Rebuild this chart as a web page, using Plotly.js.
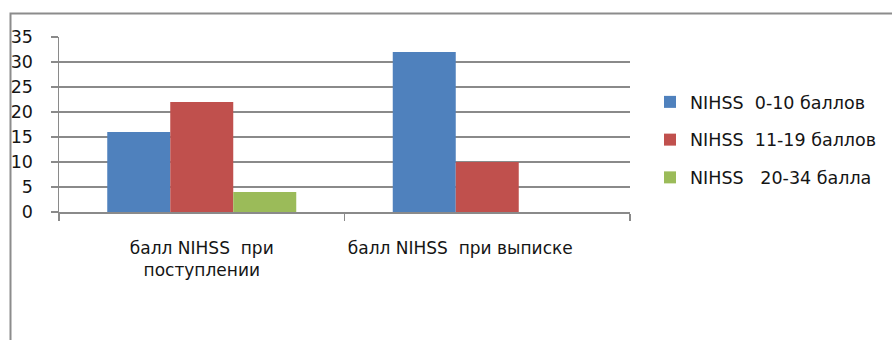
<!DOCTYPE html>
<html>
<head>
<meta charset="utf-8">
<script src="https://cdn.plot.ly/plotly-3.0.1.min.js"></script>
<style>
  html, body { margin: 0; padding: 0; background: #ffffff; }
  #chart { width: 892px; height: 340px; }
</style>
</head>
<body>
<div id="chart"></div>
<script>
// Stage of assessment (category axis)
const categories = ["admission", "discharge"];
const categoryLabels = [
  "балл NIHSS\u00a0 при<br>поступлении",
  "балл NIHSS\u00a0 при выписке\u00a0\u00a0\u00a0\u00a0\u00a0\u00a0\u00a0\u00a0\u00a0\u00a0"
];

// Number of patients in each NIHSS score band
const seriesNames = ["NIHSS  0-10 баллов", "NIHSS  11-19 баллов", "NIHSS   20-34 балла"];
const mild     = [16, 32];
const moderate = [22, 10];
const severe   = [4, 0];

const seriesValues = [mild, moderate, severe];
const seriesColors = ["#4F81BD", "#C0504D", "#9BBB59"];

const W = 892, H = 340;
const L = 59, R = 262, T = 37, B = 128;
const plotW = W - L - R, plotH = H - T - B;
// pixel -> paper helpers for the outer frame and legend
const px = x => (x - L) / plotW;
const py = y => (H - B - y) / plotH;

const traces = seriesValues.map((vals, i) => ({
  type: "bar",
  name: seriesNames[i].replace(/ /g, "\u00a0"),
  x: categories,
  y: vals,
  marker: { color: seriesColors[i], line: { width: 0 } },
  legendgroup: "g" + i,
  hoverinfo: "y+name"
}));

const layout = {
  width: W,
  height: H,
  margin: { l: L, r: R, t: T, b: B, pad: 0, autoexpand: false },
  paper_bgcolor: "#ffffff",
  plot_bgcolor: "#ffffff",
  font: { family: "DejaVu Sans, sans-serif", size: 17, color: "#151515" },
  barmode: "group",
  bargap: 0.338,
  bargroupgap: 0,
  showlegend: true,
  legend: {
    x: px(650), xanchor: "left",
    y: py(84), yanchor: "top",
    traceorder: "grouped",
    tracegroupgap: 12,
    font: { size: 17.5, color: "#151515" },
    bgcolor: "rgba(0,0,0,0)",
    borderwidth: 0
  },
  xaxis: {
    type: "category",
    tickmode: "array",
    tickvals: categories,
    ticktext: categoryLabels,
    tickangle: 0,
    automargin: false,
    showgrid: false,
    showline: true,
    linecolor: "#8a8a8a",
    linewidth: 1.5,
    ticks: "outside",
    tickson: "boundaries",
    ticklen: 7,
    tickwidth: 1.5,
    tickcolor: "#8a8a8a",
    ticklabelstandoff: 20,
    tickfont: { size: 17, color: "#151515" },
    fixedrange: true
  },
  yaxis: {
    range: [0, 35],
    tickmode: "linear",
    tick0: 0,
    dtick: 5,
    automargin: false,
    showgrid: true,
    gridcolor: "#8a8a8a",
    gridwidth: 1.3,
    zeroline: false,
    showline: true,
    linecolor: "#8a8a8a",
    linewidth: 1.5,
    ticks: "outside",
    ticklen: 7,
    tickwidth: 1.3,
    tickcolor: "#8a8a8a",
    ticklabelstandoff: 14,
    tickfont: { size: 17.5, color: "#151515" },
    fixedrange: true
  },
  shapes: [
    {
      type: "path",
      xref: "paper", yref: "paper",
      path: `M ${px(10.5)} ${py(341)} L ${px(10.5)} ${py(13.5)} L ${px(893)} ${py(13.5)}`,
      line: { color: "#8c8c8c", width: 2 }
    }
  ]
};

Plotly.newPlot("chart", traces, layout, { displayModeBar: false, staticPlot: true });
</script>
</body>
</html>
